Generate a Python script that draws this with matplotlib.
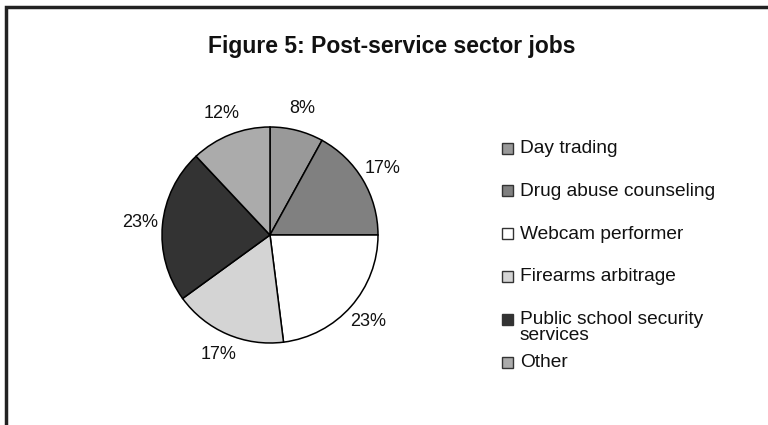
import matplotlib
matplotlib.use("Agg")
import matplotlib.pyplot as plt
from matplotlib.patches import Rectangle

plt.rcParams['font.family'] = ['Liberation Sans', 'DejaVu Sans']

title = "Figure 5: Post-service sector jobs"
categories = ["Day trading", "Drug abuse counseling", "Webcam performer",
              "Firearms arbitrage", "Public school security\nservices", "Other"]
shares = [8, 17, 23, 17, 23, 12]
colors = ["#999999", "#808080", "#ffffff", "#d4d4d4", "#333333", "#ababab"]

W, H = 768, 425
fig = plt.figure(figsize=(W / 100, H / 100), dpi=100)

# Overlay in pixel coordinates for the frame, title and legend
ov = fig.add_axes([0, 0, 1, 1])
ov.set_xlim(0, W)
ov.set_ylim(H, 0)
ov.axis("off")

# Pie axes: centre at (270, 235) px, radius 108 px
cx, cy, r = 270, 235, 108
half = 150
ax = fig.add_axes([(cx - half) / W, (H - cy - half) / H, 2 * half / W, 2 * half / H])
ax.pie(shares, colors=colors, startangle=90, counterclock=False,
       autopct=lambda p: f"{p:.0f}%", pctdistance=1.21,
       wedgeprops=dict(edgecolor="black", linewidth=1.1),
       textprops=dict(fontsize=13, color="#111111"))
lim = half / r
ax.set_xlim(-lim, lim)
ax.set_ylim(-lim, lim)
ax.set_aspect("auto")
ax.axis("off")

# Frame (only the top and left edges fall inside the image)
ov.plot([6, 6, W + 5], [H + 5, 7, 7], color="#222222", lw=2.5, solid_joinstyle="miter")

ov.text(392, 46, title, ha="center", va="center", fontsize=16.5, fontweight="bold",
        color="#111111")

# Legend
y0, step = 148, 42.8
for i, (lab, col) in enumerate(zip(categories, colors)):
    y = y0 + i * step
    ov.add_patch(Rectangle((502, y - 5.5), 11, 11, facecolor=col, edgecolor="#333333", lw=1.0))
    ov.text(520, y - 8, lab, ha="left", va="top", fontsize=13.8, color="#111111",
            linespacing=0.92)

fig.savefig("out.png", dpi=100)
